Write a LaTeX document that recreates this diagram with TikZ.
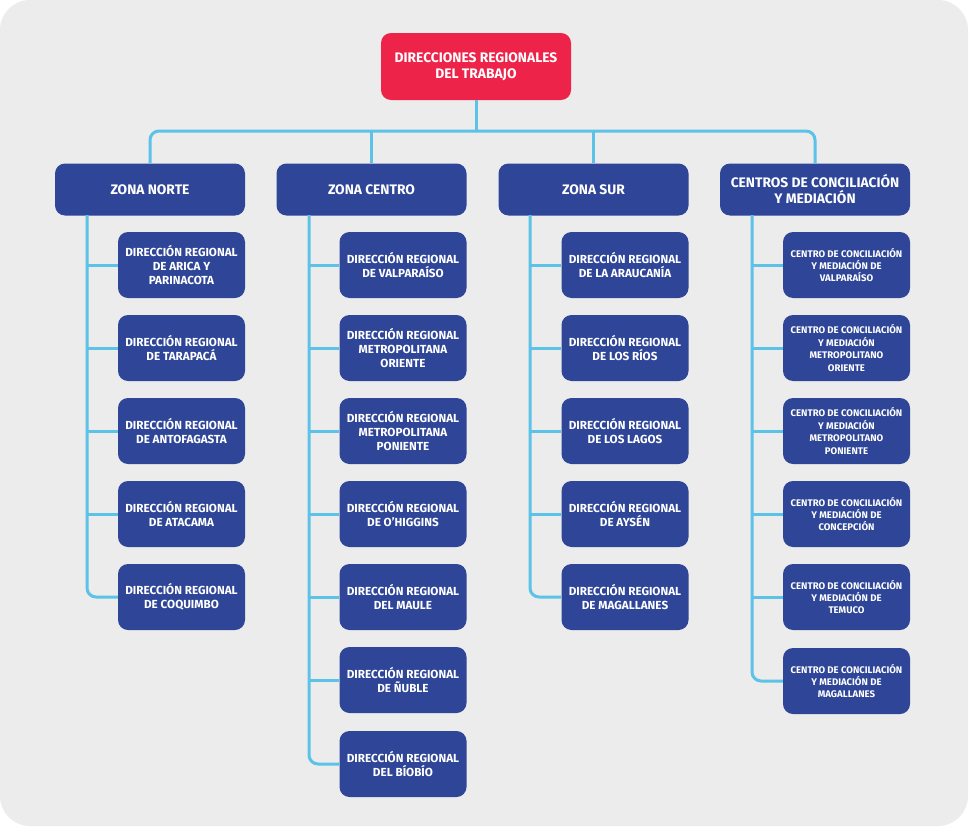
\documentclass[tikz,border=0pt]{standalone}
\usepackage{fontspec}
\setmainfont{Fira Sans}
\definecolor{bgray}{RGB}{235,236,235}
\definecolor{boxblue}{RGB}{46,69,152}
\definecolor{topred}{RGB}{238,35,73}
\definecolor{linkblue}{RGB}{92,194,232}
\begin{document}
\begin{tikzpicture}[x=1pt,y=-1pt,
  every node/.style={font=\bfseries, text=white, align=center, inner sep=0pt},
  topbox/.style={fill=topred, rounded corners=10pt, minimum width=190pt, minimum height=67pt, font=\bfseries\fontsize{13.8}{16}\selectfont},
  zonebox/.style={fill=boxblue, rounded corners=10pt, minimum width=190pt, minimum height=52pt, font=\bfseries\fontsize{13.8}{16}\selectfont},
  dirbox/.style={fill=boxblue, rounded corners=10pt, minimum width=127pt, minimum height=66pt, font=\bfseries\fontsize{11.7}{14}\selectfont},
  cenbox/.style={fill=boxblue, rounded corners=10pt, minimum width=127pt, minimum height=66pt, font=\bfseries\fontsize{9.6}{12.4}\selectfont},
  link/.style={draw=linkblue, line width=3pt, rounded corners=9pt}
]
\useasboundingbox (0,0) rectangle (970,827);
\fill[white] (0,0) rectangle (970,827);
\fill[bgray, rounded corners=30pt] (0,0) rectangle (968,826);

\node[topbox] (top) at (476,66.5) {DIRECCIONES REGIONALES\\DEL TRABAJO};

\node[zonebox] (zn) at (150,189.5) {ZONA NORTE};
\node[zonebox] (zc) at (371.5,189.5) {ZONA CENTRO};
\node[zonebox] (zs) at (593.5,189.5) {ZONA SUR};
\node[zonebox] (cc) at (815,189.5) {CENTROS DE CONCILIACIÓN\\Y MEDIACIÓN};

% Zona Norte
\node[dirbox] (n1) at (181.5,265) {DIRECCIÓN REGIONAL\\DE ARICA Y\\PARINACOTA};
\node[dirbox] (n2) at (181.5,348) {DIRECCIÓN REGIONAL\\DE TARAPACÁ};
\node[dirbox] (n3) at (181.5,431) {DIRECCIÓN REGIONAL\\DE ANTOFAGASTA};
\node[dirbox] (n4) at (181.5,514) {DIRECCIÓN REGIONAL\\DE ATACAMA};
\node[dirbox] (n5) at (181.5,597) {DIRECCIÓN REGIONAL\\DE COQUIMBO};

% Zona Centro
\node[dirbox] (c1) at (403,265) {DIRECCIÓN REGIONAL\\DE VALPARAÍSO};
\node[dirbox] (c2) at (403,348) {DIRECCIÓN REGIONAL\\METROPOLITANA\\ORIENTE};
\node[dirbox] (c3) at (403,431) {DIRECCIÓN REGIONAL\\METROPOLITANA\\PONIENTE};
\node[dirbox] (c4) at (403,514) {DIRECCIÓN REGIONAL\\DE O’HIGGINS};
\node[dirbox] (c5) at (403,597) {DIRECCIÓN REGIONAL\\DEL MAULE};
\node[dirbox] (c6) at (403,680) {DIRECCIÓN REGIONAL\\DE ÑUBLE};
\node[dirbox] (c7) at (403,764) {DIRECCIÓN REGIONAL\\DEL BÍOBÍO};

% Zona Sur
\node[dirbox] (s1) at (625,265) {DIRECCIÓN REGIONAL\\DE LA ARAUCANÍA};
\node[dirbox] (s2) at (625,348) {DIRECCIÓN REGIONAL\\DE LOS RÍOS};
\node[dirbox] (s3) at (625,431) {DIRECCIÓN REGIONAL\\DE LOS LAGOS};
\node[dirbox] (s4) at (625,514) {DIRECCIÓN REGIONAL\\DE AYSÉN};
\node[dirbox] (s5) at (625,597) {DIRECCIÓN REGIONAL\\DE MAGALLANES};

% Centros
\node[cenbox] (m1) at (846.5,265) {CENTRO DE CONCILIACIÓN\\Y MEDIACIÓN DE\\VALPARAÍSO};
\node[cenbox] (m2) at (846.5,348) {CENTRO DE CONCILIACIÓN\\Y MEDIACIÓN\\METROPOLITANO\\ORIENTE};
\node[cenbox] (m3) at (846.5,431) {CENTRO DE CONCILIACIÓN\\Y MEDIACIÓN\\METROPOLITANO\\PONIENTE};
\node[cenbox] (m4) at (846.5,514) {CENTRO DE CONCILIACIÓN\\Y MEDIACIÓN DE\\CONCEPCIÓN};
\node[cenbox] (m5) at (846.5,597) {CENTRO DE CONCILIACIÓN\\Y MEDIACIÓN DE\\TEMUCO};
\node[cenbox] (m6) at (846.5,681) {CENTRO DE CONCILIACIÓN\\Y MEDIACIÓN DE\\MAGALLANES};

% top connectors
\coordinate (hbar) at (476,131);
\draw[link] (top.south) -- (hbar);
\draw[link] (zn.north) |- (hbar) -| (cc.north);
\draw[link] (zc.north) -- (zc.north |- hbar);
\draw[link] (zs.north) -- (zs.north |- hbar);

% spines
\coordinate (spN) at (87,215);
\coordinate (spC) at (309,215);
\coordinate (spS) at (530,215);
\coordinate (spM) at (752,215);

\draw[link] (spN) |- (n5.west);
\foreach \b in {n1,n2,n3,n4} \draw[link] (spN |- \b.west) -- (\b.west);
\draw[link] (spC) |- (c7.west);
\foreach \b in {c1,c2,c3,c4,c5,c6} \draw[link] (spC |- \b.west) -- (\b.west);
\draw[link] (spS) |- (s5.west);
\foreach \b in {s1,s2,s3,s4} \draw[link] (spS |- \b.west) -- (\b.west);
\draw[link] (spM) |- (m6.west);
\foreach \b in {m1,m2,m3,m4,m5} \draw[link] (spM |- \b.west) -- (\b.west);
\end{tikzpicture}
\end{document}
